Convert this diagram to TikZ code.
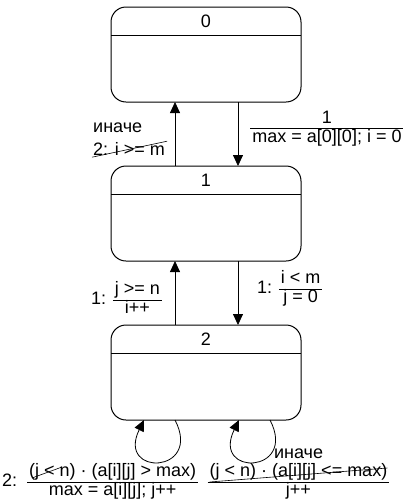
\documentclass[tikz,border=0pt]{standalone}
\usepackage{fontspec}
\setmainfont{Liberation Sans}
\usetikzlibrary{arrows.meta, positioning}
\renewcommand{\arraystretch}{0.8}
\setlength{\arrayrulewidth}{0.6pt}
\newcommand{\frc}[2]{\begin{tabular}{@{\hspace{2pt}}c@{\hspace{2pt}}}#1\\\hline #2\end{tabular}}

\begin{document}
\begin{tikzpicture}[
        x=1pt, y=-1pt,
        state/.style={
            draw,
            line width=1pt,
            rounded corners=15pt,
            minimum width=190pt,
            minimum height=95pt,
            inner sep=0pt,
            outer sep=0pt
        },
        stateno/.style={
            font=\fontsize{18}{21.6}\selectfont,
            inner sep=0pt
        },
        transition/.style={
            -{Triangle[length=11pt,width=10pt]},
            line width=0.8pt
        },
        guard/.style={
            font=\fontsize{18}{21.6}\selectfont,
            inner sep=0pt
        },
        strike/.style={
            line width=0.6pt
        }
    ]
        \useasboundingbox (0,0) rectangle (403,504);

        % ---------------------------------------------------------------------
        % States
        % ---------------------------------------------------------------------

        \node[state] (start) at (206,54.5) {};

        \node[
            state,
            below=64pt of start
        ] (rowloop) {};

        \node[
            state,
            below=64pt of rowloop
        ] (colloop) {};

        \node[stateno] (startno) at ([shift={(0,14)}]start.north) {0};
        \node[stateno] (rowloopno) at ([shift={(0,14)}]rowloop.north) {1};
        \node[stateno] (colloopno) at ([shift={(0,14)}]colloop.north) {2};

        \draw[line width=1pt]
            ([shift={(0,28)}]start.north west) -- ([shift={(0,28)}]start.north east);
        \draw[line width=1pt]
            ([shift={(0,28)}]rowloop.north west) -- ([shift={(0,28)}]rowloop.north east);
        \draw[line width=1pt]
            ([shift={(0,28)}]colloop.north west) -- ([shift={(0,28)}]colloop.north east);


        % ---------------------------------------------------------------------
        % Transitions
        % ---------------------------------------------------------------------

        \draw[transition]
            ([shift={(32,0)}]start.south) -- ([shift={(32,0)}]rowloop.north);

        \draw[transition]
            ([shift={(-31,0)}]rowloop.north) -- ([shift={(-31,0)}]start.south);

        \draw[transition]
            ([shift={(32,0)}]rowloop.south) -- ([shift={(32,0)}]colloop.north);

        \draw[transition]
            ([shift={(-31,0)}]colloop.north) -- ([shift={(-31,0)}]rowloop.south);

        % Self loops under the inner state.
        \draw[transition]
            ([shift={(-31,0)}]colloop.south)
            .. controls +(28,54) and +(-28,57) ..
            ([shift={(-62,0)}]colloop.south);

        \draw[transition]
            ([shift={(64,0)}]colloop.south)
            .. controls +(28,54) and +(-28,57) ..
            ([shift={(33,0)}]colloop.south);


        % ---------------------------------------------------------------------
        % Guards and actions
        % ---------------------------------------------------------------------

        \node[guard, anchor=base west] (elselbl) at (93,132) {иначе};

        \node[guard, anchor=base west] (backlbl) at (93,155) {2: i >= m};

        \draw[strike]
            ([shift={(-1,2)}]backlbl.south west) -- ([shift={(2,-14)}]backlbl.south east);

        \node[guard] (enterlbl) at (327,129) {\frc{1}{max = a[0][0]; i = 0}};

        \node[guard, anchor=west] (nextrowlbl) at (91,300) {1: \frc{j >= n}{i++}};

        \node[guard, anchor=west] (colstartlbl) at (257,289) {1: \frc{i < m}{j = 0}};

        \node[guard, anchor=west] (maxlbl) at (2,482)
            {2:\hspace{10pt}\frc{(j < n) · (a[i][j] > max)}{max = a[i][j]; j++}};

        \draw[strike]
            ([shift={(30,-4)}]maxlbl.west) -- ([shift={(60,-15)}]maxlbl.west);

        \node[guard] (skiplbl) at (298.5,482) {\frc{(j < n) · (a[i][j] <= max)}{j++}};

        \node[
            guard,
            above=4pt of skiplbl
        ] (skipelse) {иначе};

        \draw[strike]
            ([shift={(2,0)}]skiplbl.west) -- ([shift={(-2,-14)}]skiplbl.east);

    \end{tikzpicture}
\end{document}
